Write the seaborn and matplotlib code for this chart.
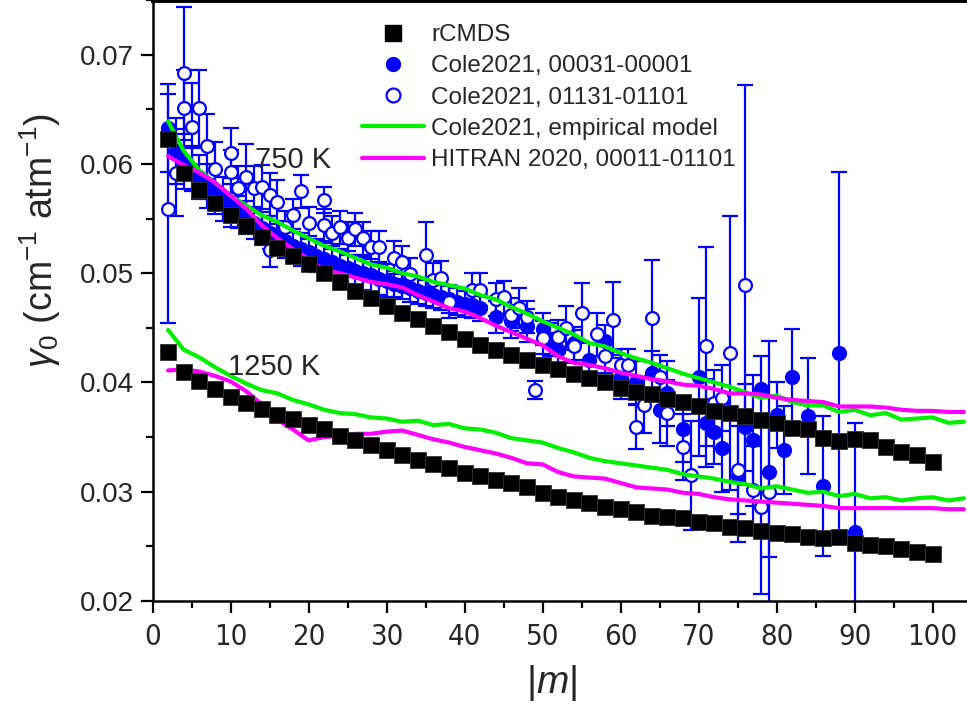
import matplotlib
matplotlib.use('Agg')
import matplotlib.pyplot as plt
import seaborn as sns
import pandas as pd
from matplotlib.lines import Line2D
from matplotlib.ticker import MultipleLocator, FormatStrFormatter
from matplotlib import font_manager
from matplotlib.font_manager import FontProperties

# ---------------- data ----------------
m_sq = list(range(2, 101, 2))
rcmds_750 = [0.0623, 0.0592, 0.0576, 0.0564, 0.0553, 0.0543, 0.0533, 0.0523, 0.0516, 0.0508,
             0.0500, 0.0492, 0.0484, 0.0477, 0.0470, 0.0464, 0.0458, 0.0452, 0.0446, 0.0440,
             0.0434, 0.0430, 0.0425, 0.0421, 0.0416, 0.0412, 0.0408, 0.0404, 0.0400, 0.0395,
             0.0391, 0.0389, 0.0385, 0.0382, 0.0378, 0.0374, 0.0372, 0.0369, 0.0366, 0.0363,
             0.0358, 0.0357, 0.0349, 0.0346, 0.0348, 0.0347, 0.0341, 0.0336, 0.0334, 0.0327]
rcmds_1250 = [0.0428, 0.0410, 0.0401, 0.0394, 0.0387, 0.0381, 0.0376, 0.0370, 0.0367, 0.0361,
              0.0357, 0.0351, 0.0347, 0.0343, 0.0338, 0.0334, 0.0329, 0.0325, 0.0322, 0.0317,
              0.0314, 0.0311, 0.0308, 0.0304, 0.0299, 0.0295, 0.0292, 0.0290, 0.0286, 0.0284,
              0.0281, 0.0278, 0.0277, 0.0276, 0.0272, 0.0271, 0.0268, 0.0267, 0.0264, 0.0262,
              0.0261, 0.0259, 0.0258, 0.0259, 0.0253, 0.0251, 0.0250, 0.0248, 0.0245, 0.0243]

m_line = list(range(2, 105, 2))
emp_750 = [0.0639, 0.0612, 0.0594, 0.0583, 0.0571, 0.0562, 0.0553, 0.0547, 0.0539, 0.0532,
           0.0525, 0.0520, 0.0514, 0.0508, 0.0505, 0.0500, 0.0497, 0.0492, 0.0489, 0.0486,
           0.0480, 0.0476, 0.0469, 0.0463, 0.0456, 0.0450, 0.0444, 0.0436, 0.0433, 0.0427,
           0.0422, 0.0418, 0.0413, 0.0408, 0.0404, 0.0400, 0.0396, 0.0391, 0.0386, 0.0388,
           0.0382, 0.0379, 0.0379, 0.0373, 0.0375, 0.0370, 0.0372, 0.0366, 0.0367, 0.0368,
           0.0363, 0.0364]
hitran_750 = [0.0607, 0.0599, 0.0592, 0.0583, 0.0571, 0.0559, 0.0544, 0.0532, 0.0522, 0.0513,
              0.0503, 0.0500, 0.0496, 0.0492, 0.0490, 0.0487, 0.0480, 0.0474, 0.0468, 0.0465,
              0.0459, 0.0452, 0.0446, 0.0440, 0.0434, 0.0424, 0.0418, 0.0416, 0.0413, 0.0409,
              0.0406, 0.0403, 0.0401, 0.0398, 0.0397, 0.0394, 0.0390, 0.0390, 0.0389, 0.0386,
              0.0384, 0.0383, 0.0382, 0.0378, 0.0378, 0.0378, 0.0377, 0.0375, 0.0374, 0.0374,
              0.0373, 0.0373]
emp_1250 = [0.0448, 0.0430, 0.0423, 0.0414, 0.0406, 0.0399, 0.0393, 0.0390, 0.0384, 0.0380,
            0.0375, 0.0372, 0.0371, 0.0368, 0.0367, 0.0364, 0.0365, 0.0361, 0.0362, 0.0358,
            0.0357, 0.0354, 0.0349, 0.0347, 0.0345, 0.0340, 0.0336, 0.0331, 0.0328, 0.0326,
            0.0324, 0.0322, 0.0320, 0.0316, 0.0314, 0.0312, 0.0309, 0.0307, 0.0303, 0.0305,
            0.0302, 0.0299, 0.0300, 0.0296, 0.0298, 0.0294, 0.0295, 0.0292, 0.0294, 0.0295,
            0.0292, 0.0294]
hitran_1250 = [0.0411, 0.0412, 0.0410, 0.0406, 0.0401, 0.0392, 0.0380, 0.0366, 0.0357, 0.0347,
               0.0350, 0.0351, 0.0353, 0.0353, 0.0355, 0.0356, 0.0352, 0.0348, 0.0345, 0.0341,
               0.0338, 0.0335, 0.0331, 0.0326, 0.0325, 0.0318, 0.0314, 0.0313, 0.0312, 0.0308,
               0.0304, 0.0303, 0.0302, 0.0299, 0.0298, 0.0295, 0.0293, 0.0292, 0.0291, 0.0290,
               0.0289, 0.0288, 0.0287, 0.0285, 0.0285, 0.0285, 0.0285, 0.0285, 0.0285, 0.0285,
               0.0284, 0.0284]

# Cole2021, 00031-00001 (filled circles)
m_fill = [2, 3, 4, 5, 6, 7, 8, 9, 10, 11, 12, 13, 14, 15, 16, 17, 18, 19, 20, 21,
          22, 23, 24, 25, 26, 27, 28, 29, 30, 31, 32, 33, 34, 35, 36, 37, 38, 39, 40, 41,
          42, 44, 46, 48, 50, 51, 52, 54, 56, 58, 60, 62, 64, 65, 66, 68, 70, 71, 72, 73,
          75, 76, 77, 78, 79, 80, 81, 82, 84, 86, 88, 90]
g_fill = [0.0633, 0.0612, 0.0602, 0.0595, 0.0588, 0.0580, 0.0574, 0.0568, 0.0562, 0.0556,
          0.0551, 0.0546, 0.0541, 0.0537, 0.0533, 0.0529, 0.0525, 0.0522, 0.0519, 0.0516,
          0.0513, 0.0510, 0.0507, 0.0505, 0.0502, 0.0500, 0.0498, 0.0495, 0.0493, 0.0490,
          0.0488, 0.0486, 0.0484, 0.0482, 0.0480, 0.0478, 0.0476, 0.0474, 0.0472, 0.0471,
          0.0468, 0.0460, 0.0456, 0.0452, 0.0449, 0.0439, 0.0430, 0.0436, 0.0421, 0.0438,
          0.0405, 0.0400, 0.0409, 0.0375, 0.0390, 0.0357, 0.0405, 0.0363, 0.0355, 0.0340,
          0.0314, 0.0359, 0.0347, 0.0394, 0.0318, 0.0370, 0.0338, 0.0405, 0.0369, 0.0305,
          0.0427, 0.0263]
e_fill = [0.0040, 0.0030, 0.0025, 0.0020, 0.0020, 0.0020, 0.0020, 0.0020, 0.0020, 0.0015,
          0.0015, 0.0015, 0.0015, 0.0015, 0.0015, 0.0015, 0.0015, 0.0015, 0.0015, 0.0015,
          0.0015, 0.0015, 0.0015, 0.0015, 0.0015, 0.0015, 0.0015, 0.0015, 0.0015, 0.0012,
          0.0012, 0.0012, 0.0012, 0.0012, 0.0012, 0.0012, 0.0012, 0.0012, 0.0012, 0.0012,
          0.0012, 0.0015, 0.0015, 0.0015, 0.0015, 0.0015, 0.0015, 0.0015, 0.0015, 0.0015,
          0.0020, 0.0020, 0.0020, 0.0030, 0.0030, 0.0030, 0.0072, 0.0040, 0.0030, 0.0040,
          0.0060, 0.0040, 0.0060, 0.0030, 0.0120, 0.0030, 0.0040, 0.0044, 0.0053, 0.0064,
          0.0166, 0.0100]

# Cole2021, 01131-01101 (open circles)
m_open = [2, 3, 4, 4, 5, 6, 7, 8, 10, 10, 11, 12, 13, 14, 15, 15, 16, 17, 18, 19,
          20, 22, 22, 23, 24, 25, 26, 27, 28, 29, 31, 32, 33, 35, 36, 37, 38, 41, 42, 44,
          45, 46, 47, 48, 49, 50, 52, 53, 54, 55, 57, 58, 59, 60, 61, 62, 63, 64, 65, 66,
          68, 69, 71, 72, 73, 74, 75, 76, 77, 78, 79]
g_open = [0.0559, 0.0592, 0.0683, 0.0651, 0.0634, 0.0651, 0.0616, 0.0595, 0.0610, 0.0593,
          0.0578, 0.0588, 0.0578, 0.0579, 0.0572, 0.0521, 0.0565, 0.0542, 0.0553, 0.0575,
          0.0546, 0.0567, 0.0544, 0.0537, 0.0542, 0.0532, 0.0540, 0.0532, 0.0524, 0.0524,
          0.0514, 0.0510, 0.0499, 0.0517, 0.0494, 0.0496, 0.0474, 0.0485, 0.0485, 0.0476,
          0.0478, 0.0462, 0.0468, 0.0460, 0.0393, 0.0441, 0.0442, 0.0450, 0.0433, 0.0464,
          0.0444, 0.0424, 0.0457, 0.0416, 0.0416, 0.0359, 0.0379, 0.0459, 0.0405, 0.0372,
          0.0341, 0.0315, 0.0433, 0.0381, 0.0386, 0.0427, 0.0320, 0.0489, 0.0302, 0.0286,
          0.0300]
e_open = [0.0105, 0.0040, 0.0061, 0.0035, 0.0040, 0.0035, 0.0030, 0.0025, 0.0023, 0.0020,
          0.0020, 0.0030, 0.0020, 0.0020, 0.0020, 0.0015, 0.0020, 0.0015, 0.0015, 0.0015,
          0.0015, 0.0012, 0.0015, 0.0015, 0.0015, 0.0015, 0.0015, 0.0015, 0.0015, 0.0015,
          0.0015, 0.0015, 0.0015, 0.0030, 0.0015, 0.0015, 0.0015, 0.0015, 0.0015, 0.0015,
          0.0015, 0.0015, 0.0018, 0.0015, 0.0008, 0.0015, 0.0015, 0.0020, 0.0015, 0.0027,
          0.0020, 0.0015, 0.0035, 0.0015, 0.0015, 0.0020, 0.0025, 0.0053, 0.0020, 0.0030,
          0.0030, 0.0050, 0.0091, 0.0030, 0.0030, 0.0125, 0.0040, 0.0183, 0.0040, 0.0080,
          0.0060]

x_ticks = [0, 10, 20, 30, 40, 50, 60, 70, 80, 90, 100]
y_ticks = [0.02, 0.03, 0.04, 0.05, 0.06, 0.07]

# ---------------- style ----------------
sns.set_style('ticks')
plt.rcParams['font.family'] = ['Liberation Sans', 'DejaVu Sans']
plt.rcParams['mathtext.fontset'] = 'custom'
plt.rcParams['mathtext.rm'] = 'Liberation Sans'
plt.rcParams['mathtext.it'] = 'Liberation Sans:italic'
plt.rcParams['mathtext.sf'] = 'Liberation Sans'

# look for a condensed / narrow sans face for the x tick labels
narrow_fp = None
for f in font_manager.fontManager.ttflist:
    nm = f.name.lower()
    fn = f.fname.lower()
    if f.style != 'normal' or f.weight not in (400, 'normal', 'regular'):
        continue
    if ('narrow' in nm or 'condensed' in nm or 'condensed' in fn or 'narrow' in fn
            or str(f.stretch) in ('condensed', 'semi-condensed')) and 'mono' not in fn \
            and 'serif' not in fn.replace('sans', ''):
        if 'bold' in fn or 'oblique' in fn or 'italic' in fn or 'light' in fn:
            continue
        narrow_fp = f.fname
        break

BLUE = '#0000ff'
GREEN = '#00f000'
MAGENTA = '#ff00ff'

fig = plt.figure(figsize=(9.67, 7.11), dpi=100)
ax = fig.add_axes([152.5 / 967, 110 / 711, (967 - 152.5) / 967, 601 / 711])

ax.errorbar(m_fill, g_fill, yerr=e_fill, fmt='none', ecolor=BLUE, elinewidth=1.6,
            capsize=5.5, capthick=1.6, zorder=2)
sns.scatterplot(x=m_fill, y=g_fill, ax=ax, marker='o', s=95, color=BLUE,
                edgecolor=BLUE, linewidth=1.2, zorder=3, legend=False)
ax.errorbar(m_open, g_open, yerr=e_open, fmt='none', ecolor=BLUE, elinewidth=1.6,
            capsize=5.5, capthick=1.6, zorder=3.5)
sns.scatterplot(x=m_open, y=g_open, ax=ax, marker='o', s=85, color='white',
                edgecolor=BLUE, linewidth=1.6, zorder=3.6, legend=False)

for yv, col in [(emp_750, GREEN), (hitran_750, MAGENTA), (emp_1250, GREEN), (hitran_1250, MAGENTA)]:
    sns.lineplot(x=m_line, y=yv, ax=ax, color=col, linewidth=3, estimator=None,
                 sort=False, zorder=4, legend=False)

for yv in (rcmds_750, rcmds_1250):
    sns.scatterplot(x=m_sq, y=yv, ax=ax, marker='s', s=125, color='black',
                    edgecolor='#333333', linewidth=0.6, zorder=5, legend=False)

ax.set_xlim(0, 104.4)
ax.set_ylim(0.02, 0.075)
ax.set_xticks(x_ticks)
ax.set_yticks(y_ticks)
ax.xaxis.set_minor_locator(MultipleLocator(5))
ax.yaxis.set_minor_locator(MultipleLocator(0.005))
ax.yaxis.set_major_formatter(FormatStrFormatter('%.2f'))
ax.tick_params(which='major', direction='out', length=8.5, width=1.6, color='black')
ax.tick_params(which='minor', direction='out', length=5, width=1.6, color='black')
ax.tick_params(axis='y', which='major', labelsize=20, pad=5)
ax.tick_params(axis='x', which='major', labelsize=20, pad=7)
for lab in ax.get_xticklabels():
    if narrow_fp is not None:
        lab.set_fontproperties(FontProperties(fname=narrow_fp, size=21))
    else:
        lab.set_fontsize(17)

for s in ('left', 'bottom'):
    ax.spines[s].set_linewidth(1.8)
    ax.spines[s].set_color('black')
ax.spines['top'].set_linewidth(3.5)
ax.spines['top'].set_color('black')
ax.spines['right'].set_visible(False)
ax.set_xlabel('')
ax.set_ylabel('')

fig.text(40 / 967, 1 - 240 / 711, r'$\gamma_0$ (cm$^{-1}$ atm$^{-1}$)', rotation=90,
         ha='center', va='center', fontsize=27)
fig.text(552 / 967, 1 - 683 / 711, r'|$m$|', ha='center', va='center', fontsize=28)

ax.text(13.1, 0.05965, '750 K', fontsize=21, va='baseline', zorder=6)
ax.text(9.7, 0.0407, '1250 K', fontsize=21, va='baseline', zorder=6)

handles = [
    Line2D([], [], marker='s', ls='', color='black', markersize=11, label='rCMDS'),
    Line2D([], [], marker='o', ls='', color=BLUE, markersize=10, label='Cole2021, 00031-00001'),
    Line2D([], [], marker='o', ls='', mfc='white', mec=BLUE, mew=1.6, markersize=10,
           label='Cole2021, 01131-01101'),
    Line2D([], [], color=GREEN, lw=3, label='Cole2021, empirical model'),
    Line2D([], [], color=MAGENTA, lw=3, label='HITRAN 2020, 00011-01101'),
]
ax.legend(handles=handles, loc='upper left', bbox_to_anchor=((362 - 152.5) / 815, 1 - 24 / 601),
          frameon=False, fontsize=17.5, handlelength=2.55, handletextpad=0.3,
          labelspacing=0.38, borderpad=0, borderaxespad=0)

fig.savefig('out.png', dpi=100)
